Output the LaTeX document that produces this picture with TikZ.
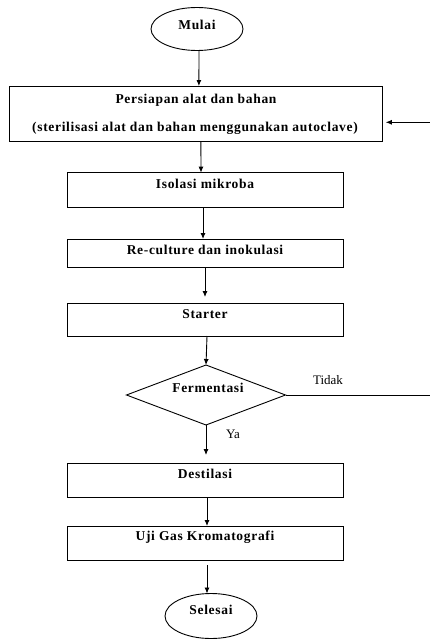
\documentclass[tikz,border=0pt]{standalone}
\usepackage{fontspec}
\setmainfont{Liberation Serif}
\usetikzlibrary{shapes.geometric,arrows.meta}
\begin{document}
\begin{tikzpicture}[x=1pt,y=-1pt,
  every node/.style={inner sep=0pt,outer sep=0pt},
  boxnode/.style={draw,line width=1pt,rectangle},
  ovalnode/.style={draw,line width=0.9pt,ellipse},
  decnode/.style={draw,line width=0.9pt,diamond},
  txt/.style={font=\fontsize{13.5}{15}\selectfont\bfseries\addfontfeature{LetterSpace=5}},
  lbl/.style={font=\fontsize{13}{15}\selectfont},
  arr/.style={line width=0.9pt,-{Latex[length=6pt,width=5pt]}},
  ln/.style={line width=0.9pt}]
\useasboundingbox (0,0) rectangle (430,639);
% shapes
\node[ovalnode,minimum width=92pt,minimum height=43pt] (mulai) at (197,29) {};
\node[txt] (tmulai) at (197,25) {Mulai};
\node[boxnode,minimum width=373.7pt,minimum height=55.7pt] (prep) at (195.9,113.9) {};
\node[txt] (tprep1) at (196,100) {Persiapan alat dan bahan};
\node[txt] (tprep2) at (195,128) {(sterilisasi alat dan bahan menggunakan autoclave)};
\node[boxnode,minimum width=276pt,minimum height=35.3pt] (iso) at (205,190.3) {};
\node[txt] (tiso) at (205,184) {Isolasi mikroba};
\node[boxnode,minimum width=276pt,minimum height=28pt] (rec) at (205,253) {};
\node[txt] (trec) at (205,250) {Re-culture dan inokulasi};
\node[boxnode,minimum width=276pt,minimum height=33pt] (start) at (205,319.5) {};
\node[txt] (tstart) at (205,314) {Starter};
\node[decnode,minimum width=159pt,minimum height=60pt,aspect=2.65] (ferm) at (206,395) {};
\node[txt] (tferm) at (208,388) {Fermentasi};
\node[boxnode,minimum width=276pt,minimum height=34pt] (dest) at (205,480) {};
\node[txt] (tdest) at (205,474) {Destilasi};
\node[boxnode,minimum width=276pt,minimum height=34pt] (uji) at (205,543) {};
\node[txt] (tuji) at (205,537) {Uji Gas Kromatografi};
\node[ovalnode,minimum width=92pt,minimum height=45pt] (sel) at (211,616) {};
\node[txt] (tsel) at (211,610) {Selesai};
% labels
\node[lbl] (tidak) at (328,380) {Tidak};
\node[lbl] (ya) at (233,434) {Ya};
% free ends at the right margin
\coordinate (fbout) at (430,395);
\coordinate (fbin) at (430,122.3);
% connectors
\draw[arr] ([xshift=2pt]mulai.south) -- ([xshift=3pt]prep.north);
\draw[arr] ([xshift=5pt]prep.south) -- ([xshift=-4pt]iso.north);
\draw[arr] ([xshift=-2pt]iso.south) -- ([xshift=-2pt]rec.north);
\draw[arr,shorten >=6pt] (rec.south) -- (start.north);
\draw[arr] ([xshift=2pt]start.south) -- (ferm.north);
\draw[arr,shorten >=8pt] (ferm.south) -- ([xshift=1pt]dest.north);
\draw[arr] ([xshift=2pt]dest.south) -- ([xshift=2pt]uji.north);
\draw[arr,shorten <=5pt] ([xshift=2pt]uji.south) -- ([xshift=-4pt]sel.north);
\draw[ln] (ferm.east) -- (fbout);
\draw[arr,shorten >=3pt] (fbin) -- (prep.east |- fbin);
\end{tikzpicture}
\end{document}
